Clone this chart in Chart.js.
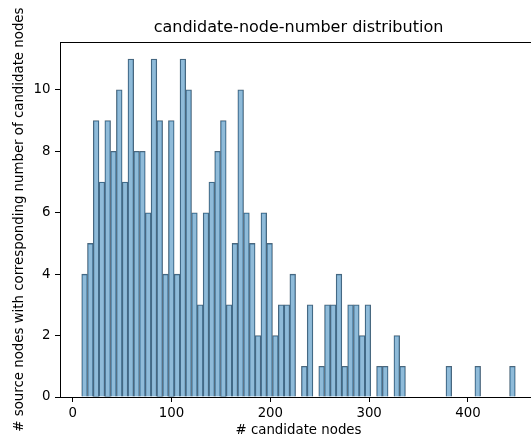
<!DOCTYPE html>
<html>
<head>
<meta charset="utf-8">
<script src="https://cdn.jsdelivr.net/npm/chart.js@4/dist/chart.umd.min.js"></script>
<style>
  html, body { margin: 0; padding: 0; background: #ffffff; overflow: hidden; }
  #wrap { width: 531px; height: 439px; overflow: hidden; }
</style>
</head>
<body>
<div id="wrap">
  <canvas id="grafico" width="545" height="439"></canvas>
</div>
<script>
// Histograma: 75 bins entre 9 y 448 candidatos
const binStart = 9;
const binEnd = 448;
const conteos = [
  4, 5, 9, 7, 9, 8, 10, 7, 11, 8,
  8, 6, 11, 9, 4, 9, 4, 11, 10, 6,
  3, 6, 7, 8, 9, 3, 5, 10, 6, 5,
  2, 6, 5, 2, 3, 3, 4, 0, 1, 3,
  0, 1, 3, 3, 4, 1, 3, 3, 2, 3,
  0, 1, 1, 0, 2, 1, 0, 0, 0, 0,
  0, 0, 0, 1, 0, 0, 0, 0, 1, 0,
  0, 0, 0, 0, 1
];
const xTicks = [0, 100, 200, 300, 400];
const yTicks = [0, 2, 4, 6, 8, 10];

const anchoBin = (binEnd - binStart) / conteos.length;
const puntos = conteos.map((c, i) => ({ x: binStart + anchoBin * (i + 0.5), y: c }));

const margenX = (binEnd - binStart) * 0.05;
const maxY = Math.max(...conteos) * 1.05;

const fuente = 'DejaVu Sans';

// Marco del eje (spines superior y derecho incluidos)
const marco = {
  id: 'marco',
  afterDraw(chart) {
    const { ctx, chartArea: a } = chart;
    ctx.save();
    ctx.strokeStyle = '#000000';
    ctx.lineWidth = 1;
    ctx.strokeRect(Math.round(a.left) + 0.5, Math.round(a.top) + 0.5, Math.round(a.right - a.left), Math.round(a.bottom - a.top));
    ctx.restore();
  }
};

new Chart(document.getElementById('grafico'), {
  type: 'bar',
  data: {
    datasets: [{
      data: puntos,
      backgroundColor: 'rgba(31, 119, 180, 0.5)',
      borderColor: '#516576',
      borderWidth: 0.7,
      borderSkipped: 'start',
      inflateAmount: 0.3,
      barPercentage: 1,
      categoryPercentage: 1
    }]
  },
  options: {
    responsive: false,
    animation: false,
    layout: { padding: { left: 0, right: 8, top: 0, bottom: 0 } },
    plugins: {
      legend: { display: false },
      tooltip: { enabled: false },
      title: {
        display: true,
        fullSize: false,
        text: 'candidate-node-number distribution',
        color: '#000000',
        font: { family: fuente, size: 16, weight: 'normal' },
        padding: { top: 18, bottom: 5 }
      }
    },
    scales: {
      x: {
        type: 'linear',
        offset: false,
        min: binStart - margenX,
        max: binEnd + margenX,
        afterFit: (s) => { s.height = 42; },
        afterBuildTicks: (s) => { s.ticks = xTicks.map(v => ({ value: v })); },
        border: { display: false },
        grid: { display: true, drawOnChartArea: false, drawTicks: true, tickLength: 5, color: '#000000', offset: false },
        ticks: { color: '#000000', padding: 4, maxRotation: 0, font: { family: fuente, size: 13.33 } },
        title: {
          display: true,
          text: '# candidate nodes',
          color: '#000000',
          font: { family: fuente, size: 13.33 },
          padding: { top: 0, bottom: 0 }
        }
      },
      y: {
        min: 0,
        max: maxY,
        afterFit: (s) => { s.width = 60; },
        afterBuildTicks: (s) => { s.ticks = yTicks.map(v => ({ value: v })); },
        border: { display: false },
        grid: { display: true, drawOnChartArea: false, drawTicks: true, tickLength: 5, color: '#000000' },
        ticks: { color: '#000000', padding: 4.5, font: { family: fuente, size: 13.33 } },
        title: {
          display: true,
          text: '# source nodes with corresponding number of candidate nodes',
          color: '#000000',
          font: { family: fuente, size: 13.33 },
          padding: { top: 12, bottom: 0 }
        }
      }
    }
  },
  plugins: [marco]
});
</script>
</body>
</html>
